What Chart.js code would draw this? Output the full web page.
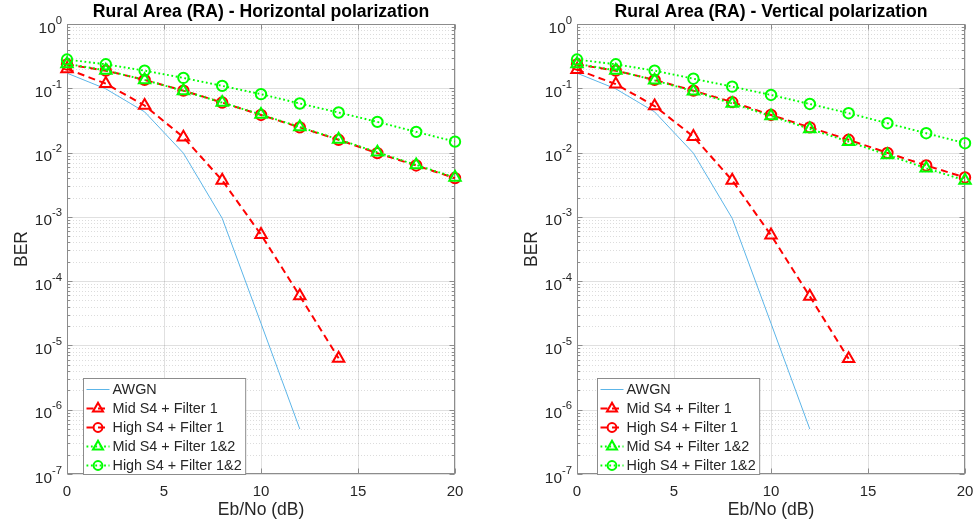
<!DOCTYPE html>
<html>
<head>
<meta charset="utf-8">
<title>Rural Area (RA) BER</title>
<script src="https://cdn.jsdelivr.net/npm/chart.js"></script>
<style>
  html, body { margin: 0; padding: 0; background: #fff; }
  .panel { position: absolute; top: 0; height: 527px; }
</style>
</head>
<body>
<div class="panel" style="left:0;width:488px"><canvas id="chartH" width="488" height="527"></canvas></div>
<div class="panel" style="left:488px;width:489px"><canvas id="chartV" width="489" height="527"></canvas></div>
<script>
// Eb/No sample points (dB)
const ebno = [0, 2, 4, 6, 8, 10, 12, 14, 16, 18, 20];
const awgnEbno = [0, 2, 4, 6, 8, 10, 12];
const midF1Ebno = [0, 2, 4, 6, 8, 10, 12, 14];

const seriesNames = ['AWGN', 'Mid S4 + Filter 1', 'High S4 + Filter 1', 'Mid S4 + Filter 1&2', 'High S4 + Filter 1&2'];

// horizontal polarization
const awgnH = [0.172, 0.098, 0.043, 0.0098, 9.5e-4, 2.2e-5, 5.0e-7];
const midF1H = [0.20, 0.118, 0.054, 0.0173, 0.0037, 5.3e-4, 5.9e-5, 6.3e-6];
const highF1H = [0.235, 0.188, 0.135, 0.092, 0.060, 0.0385, 0.0247, 0.0158, 0.0098, 0.0063, 0.0040];
const midF12H = [0.24, 0.19, 0.135, 0.091, 0.060, 0.039, 0.025, 0.016, 0.0101, 0.0064, 0.0041];
const highF12H = [0.28, 0.236, 0.188, 0.145, 0.109, 0.081, 0.058, 0.042, 0.030, 0.021, 0.0148];

// vertical polarization
const awgnV = [0.172, 0.098, 0.043, 0.0098, 9.5e-4, 2.2e-5, 5.0e-7];
const midF1V = [0.195, 0.116, 0.053, 0.0177, 0.0037, 5.2e-4, 5.8e-5, 6.2e-6];
const highF1V = [0.235, 0.188, 0.135, 0.092, 0.061, 0.0385, 0.0247, 0.0158, 0.0099, 0.0063, 0.0041];
const midF12V = [0.24, 0.19, 0.133, 0.090, 0.058, 0.037, 0.0233, 0.0148, 0.0092, 0.0057, 0.0037];
const highF12V = [0.28, 0.236, 0.188, 0.141, 0.106, 0.0787, 0.057, 0.041, 0.0286, 0.020, 0.014];

const xTicks = [0, 5, 10, 15, 20];
const yDecades = [-7, -6, -5, -4, -3, -2, -1, 0];

const FONT = "'Liberation Sans', Arial, Helvetica, sans-serif";
const TEXT = '#262626';
const AXIS = '#8c8c8c';

function pts(xs, ys) {
  return ys.map((y, i) => ({ x: xs[i], y }));
}

function drawMarker(ctx, style, r, x, y) {
  ctx.beginPath();
  if (style === 'triangle') {
    for (let k = 0; k < 3; k++) {
      const ang = k * 2 * Math.PI / 3;
      const px = x + Math.sin(ang) * r, py = y - Math.cos(ang) * r;
      k ? ctx.lineTo(px, py) : ctx.moveTo(px, py);
    }
    ctx.closePath();
  } else {
    ctx.arc(x, y, r, 0, Math.PI * 2);
  }
  ctx.stroke();
}

// MATLAB-like axes: grid, box, inward ticks, superscript tick labels, legend
const matlabAxes = {
  id: 'matlabAxes',
  beforeDatasetsDraw(chart) {
    const { ctx, chartArea: a, scales: { x, y } } = chart;
    ctx.save();
    ctx.lineWidth = 1;

    // minor grid (dotted)
    ctx.setLineDash([1, 2]);
    ctx.strokeStyle = 'rgba(38,38,38,0.16)';
    yDecades.slice(0, -1).forEach(e => {
      for (let m = 2; m <= 9; m++) {
        const py = Math.round(y.getPixelForValue(m * Math.pow(10, e))) + 0.5;
        ctx.beginPath(); ctx.moveTo(a.left, py); ctx.lineTo(a.right, py); ctx.stroke();
      }
    });

    // major grid
    ctx.setLineDash([]);
    ctx.strokeStyle = 'rgba(38,38,38,0.14)';
    yDecades.forEach(e => {
      const py = Math.round(y.getPixelForValue(Math.pow(10, e))) + 0.5;
      ctx.beginPath(); ctx.moveTo(a.left, py); ctx.lineTo(a.right, py); ctx.stroke();
    });
    xTicks.forEach(v => {
      const px = Math.round(x.getPixelForValue(v)) + 0.5;
      ctx.beginPath(); ctx.moveTo(px, a.top); ctx.lineTo(px, a.bottom); ctx.stroke();
    });

    // box
    ctx.strokeStyle = AXIS;
    const L = Math.round(a.left) + 0.5, R = Math.round(a.right) - 0.5;
    const T = Math.round(a.top) + 0.5, B = Math.round(a.bottom) - 0.5;
    ctx.strokeRect(L, T, R - L, B - T);

    // ticks
    ctx.beginPath();
    yDecades.forEach(e => {
      const py = Math.round(y.getPixelForValue(Math.pow(10, e))) + 0.5;
      ctx.moveTo(L, py); ctx.lineTo(L + 5, py);
      ctx.moveTo(R, py); ctx.lineTo(R - 5, py);
      if (e < 0) {
        for (let m = 2; m <= 9; m++) {
          const pm = Math.round(y.getPixelForValue(m * Math.pow(10, e))) + 0.5;
          ctx.moveTo(L, pm); ctx.lineTo(L + 2.5, pm);
          ctx.moveTo(R, pm); ctx.lineTo(R - 2.5, pm);
        }
      }
    });
    xTicks.forEach(v => {
      const px = Math.round(x.getPixelForValue(v)) + 0.5;
      ctx.moveTo(px, B); ctx.lineTo(px, B - 5);
      ctx.moveTo(px, T); ctx.lineTo(px, T + 5);
    });
    ctx.stroke();
    ctx.restore();
  },
  afterDraw(chart, args, opts) {
    const { ctx, chartArea: a, scales: { x, y } } = chart;
    const cx = (a.left + a.right) / 2;
    ctx.save();

    // title
    ctx.font = 'bold 17.6px ' + FONT;
    ctx.textAlign = 'center';
    ctx.textBaseline = 'alphabetic';
    ctx.fillStyle = '#000';
    ctx.fillText(opts.title, cx, 17);

    // x tick labels
    ctx.fillStyle = TEXT;
    ctx.font = '15px ' + FONT;
    ctx.textBaseline = 'middle';
    xTicks.forEach(v => ctx.fillText(String(v), x.getPixelForValue(v), 492));

    // y tick labels 10^e
    ctx.textBaseline = 'alphabetic';
    ctx.textAlign = 'left';
    yDecades.forEach(e => {
      const py = y.getPixelForValue(Math.pow(10, e));
      const exp = e < 0 ? '-' + (-e) : String(e);
      ctx.font = '11.3px ' + FONT;
      const ew = ctx.measureText(exp).width;
      ctx.font = '15.4px ' + FONT;
      const bw = ctx.measureText('10').width;
      const right = a.left - 5;
      ctx.fillText('10', right - ew - bw, py + 8.5);
      ctx.font = '11.3px ' + FONT;
      ctx.fillText(exp, right - ew, py - 0.5);
    });

    // axis labels
    ctx.font = '17.5px ' + FONT;
    ctx.textAlign = 'center';
    ctx.textBaseline = 'middle';
    ctx.fillText('Eb/No (dB)', cx, 510);
    ctx.save();
    ctx.translate(a.left - 45, (a.top + a.bottom) / 2);
    ctx.rotate(-Math.PI / 2);
    ctx.fillText('BER', 0, 0);
    ctx.restore();

    // legend
    const sets = chart.data.datasets;
    ctx.font = '14.4px ' + FONT;
    const maxW = Math.max(...sets.map(d => ctx.measureText(d.label).width));
    const bw = 29 + maxW + 4, bh = 96;
    const bx = Math.round(a.left + opts.legendLeft) + 0.5, by = Math.round(a.bottom - bh) + 0.5;
    ctx.fillStyle = '#fff';
    ctx.fillRect(bx, by, bw, bh);
    ctx.strokeStyle = AXIS;
    ctx.lineWidth = 1;
    ctx.setLineDash([]);
    ctx.strokeRect(bx, by, bw, bh);
    sets.forEach((d, i) => {
      const ry = by + 11 + 19 * i;
      ctx.strokeStyle = d.borderColor;
      ctx.lineWidth = d.borderWidth;
      ctx.setLineDash(d.borderDash || []);
      ctx.beginPath(); ctx.moveTo(bx + 3, ry); ctx.lineTo(bx + 26, ry); ctx.stroke();
      if (d.pointRadius > 0) {
        ctx.setLineDash([]);
        ctx.lineWidth = d.pointBorderWidth;
        ctx.fillStyle = '#fff';
        drawMarker(ctx, d.pointStyle, d.pointRadius - 0.8, bx + 14.5, ry);
      }
      ctx.fillStyle = TEXT;
      ctx.textAlign = 'left';
      ctx.textBaseline = 'middle';
      ctx.fillText(d.label, bx + 29, ry + 1);
    });
    ctx.restore();
  }
};

function makeDatasets(awgn, midF1, highF1, midF12, highF12) {
  const red = '#ff0000', green = '#00ff00';
  const base = { fill: false, tension: 0, clip: false, pointBackgroundColor: 'rgba(0,0,0,0)' };
  return [
    { ...base, label: seriesNames[0], data: pts(awgnEbno, awgn), borderColor: '#5cb5e8', borderWidth: 1, pointRadius: 0, order: 5 },
    { ...base, label: seriesNames[1], data: pts(midF1Ebno, midF1), borderColor: red, borderWidth: 2, borderDash: [7, 4.5],
      pointStyle: 'triangle', pointRadius: 6.6, pointBorderColor: red, pointBorderWidth: 2, order: 4 },
    { ...base, label: seriesNames[2], data: pts(ebno, highF1), borderColor: red, borderWidth: 2, borderDash: [7, 4.5],
      pointStyle: 'circle', pointRadius: 5.2, pointBorderColor: red, pointBorderWidth: 2, order: 3 },
    { ...base, label: seriesNames[3], data: pts(ebno, midF12), borderColor: green, borderWidth: 1.9, borderDash: [1.8, 2.6],
      pointStyle: 'triangle', pointRadius: 6.6, pointBorderColor: green, pointBorderWidth: 2, order: 2 },
    { ...base, label: seriesNames[4], data: pts(ebno, highF12), borderColor: green, borderWidth: 1.9, borderDash: [1.8, 2.6],
      pointStyle: 'circle', pointRadius: 5.2, pointBorderColor: green, pointBorderWidth: 2, order: 1 }
  ];
}

function makeChart(id, title, datasets, yWidth, padRight, legendLeft) {
  return new Chart(document.getElementById(id), {
    type: 'line',
    data: { datasets },
    options: {
      responsive: false,
      animation: false,
      events: [],
      layout: { padding: { top: 24, right: padRight, left: 0, bottom: 0 } },
      scales: {
        x: {
          type: 'linear', min: 0, max: 20,
          ticks: { display: false }, grid: { display: false }, border: { display: false },
          afterFit(s) { s.height = 53; }
        },
        y: {
          type: 'logarithmic', min: 1e-7, max: 1,
          ticks: { display: false }, grid: { display: false }, border: { display: false },
          afterFit(s) { s.width = yWidth; }
        }
      },
      plugins: {
        legend: { display: false },
        tooltip: { enabled: false },
        matlabAxes: { title, legendLeft }
      }
    },
    plugins: [matlabAxes]
  });
}

makeChart('chartH', 'Rural Area (RA) - Horizontal polarization',
  makeDatasets(awgnH, midF1H, highF1H, midF12H, highF12H), 67, 33, 16);
makeChart('chartV', 'Rural Area (RA) - Vertical polarization',
  makeDatasets(awgnV, midF1V, highF1V, midF12V, highF12V), 89, 12, 20);
</script>
</body>
</html>
